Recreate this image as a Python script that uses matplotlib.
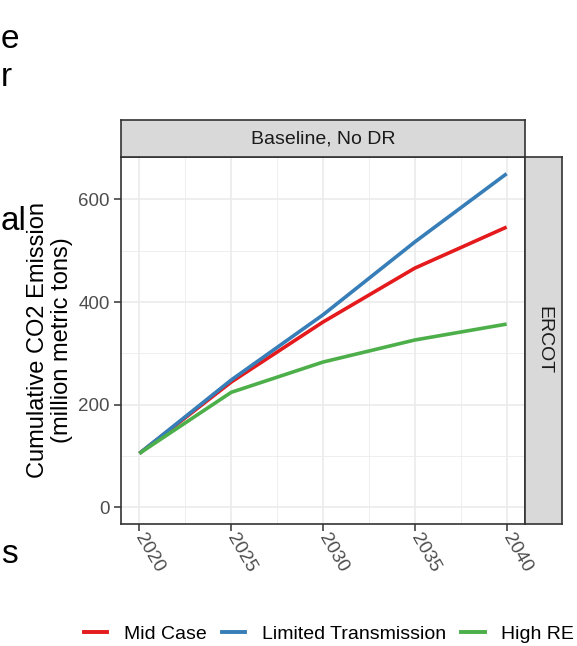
import matplotlib.pyplot as plt
from matplotlib.lines import Line2D

plt.rcParams['font.family'] = ['Liberation Sans', 'DejaVu Sans']

# cumulative emissions by scenario (million metric tons)
years = [2020, 2025, 2030, 2035, 2040]
mid_case = [105, 244, 361, 466, 546]
limited_tx = [105, 248, 375, 517, 650]
high_re = [105, 224, 283, 326, 357]

scenarios = ['Mid Case', 'Limited Transmission', 'High RE']
colors = ['#E41A1C', '#377EB8', '#4DAF4A']
series = [mid_case, limited_tx, high_re]

W, H = 577, 646
fig = plt.figure(figsize=(W / 100, H / 100), dpi=100)

def box(x0, y0, x1, y1):
    # pixel box -> figure fraction
    return [x0 / W, 1 - y1 / H, (x1 - x0) / W, (y1 - y0) / H]

ax = fig.add_axes(box(121, 157, 525, 524))
for vals, c, name in zip(series, colors, scenarios):
    ax.plot(years, vals, color=c, lw=2.6, label=name, solid_capstyle='butt', zorder=3)

ax.set_xlim(2019, 2041)
ax.set_ylim(-32.5, 682.5)
ax.set_xticks(years)
ax.set_yticks([0, 200, 400, 600])
ax.set_xticks([2022.5, 2027.5, 2032.5, 2037.5], minor=True)
ax.set_yticks([100, 300, 500], minor=True)
ax.grid(which='major', color='#EBEBEB', lw=1.2)
ax.grid(which='minor', color='#EBEBEB', lw=0.6)
ax.set_axisbelow(True)
for s in ax.spines.values():
    s.set_color('#333333')
    s.set_linewidth(1.2)
ax.tick_params(which='major', length=5, width=1.1, color='#333333',
               labelsize=13.5, labelcolor='#4D4D4D', pad=3)
ax.tick_params(which='minor', length=0)
for lbl in ax.get_xticklabels():
    lbl.set_rotation(-60)
    lbl.set_rotation_mode('anchor')
    lbl.set_ha('left')
    lbl.set_va('center')

ax.set_ylabel('Cumulative CO2 Emission\n(million metric tons)', fontsize=17,
              color='black', linespacing=1.1, labelpad=4)

# facet strips
top = fig.add_axes(box(121, 120, 525, 157))
right = fig.add_axes(box(525, 157, 562, 524))
for sa in (top, right):
    sa.set_xticks([])
    sa.set_yticks([])
    sa.set_facecolor('#D9D9D9')
    for s in sa.spines.values():
        s.set_color('#333333')
        s.set_linewidth(1.2)
top.text(0.5, 0.5, 'Baseline, No DR', ha='center', va='center', fontsize=14, color='#1A1A1A')
right.text(0.5, 0.5, 'ERCOT', ha='center', va='center', fontsize=14, color='#1A1A1A', rotation=-90)

# legend below the panel
handles = [Line2D([], [], color=c, lw=2.8) for c in colors]
fig.legend(handles, scenarios, loc='center', bbox_to_anchor=(329 / W, 1 - 634 / H),
           ncol=3, frameon=False, fontsize=14, handlelength=1.2,
           columnspacing=0.8, handletextpad=0.85)

# slide text along the left edge
for s, y in [('e', 48), ('r', 86), ('al', 230), ('s', 563)]:
    fig.text(1 / W, 1 - y / H, s, ha='left', va='baseline', fontsize=24, color='black')

fig.savefig('out.png', dpi=100)
